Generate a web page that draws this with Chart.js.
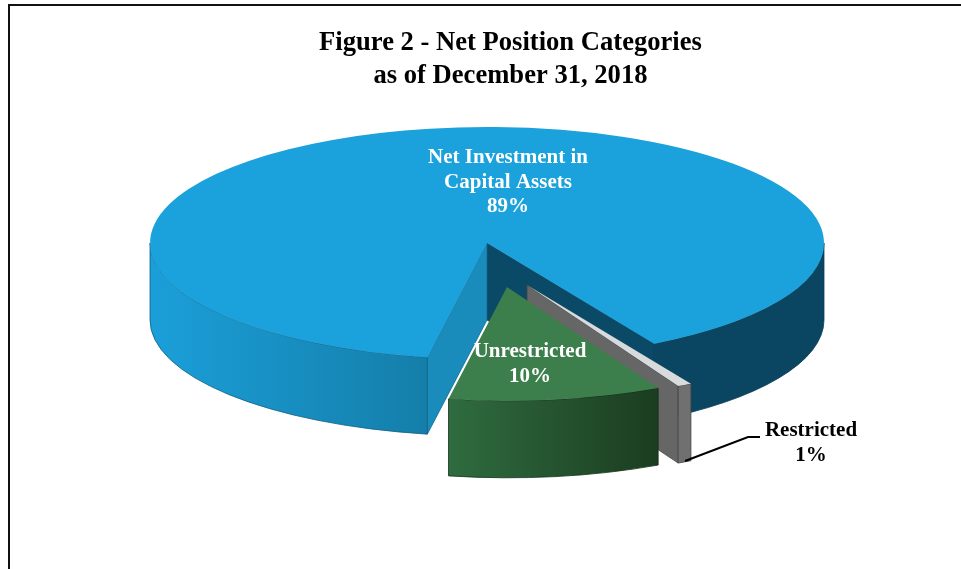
<!DOCTYPE html>
<html>
<head>
<meta charset="utf-8">
<style>
    html, body { margin: 0; padding: 0; background: #fff; overflow: hidden; }
    #box { position: absolute; left: 8px; top: 4px; right: 0; bottom: 0; border-left: 2px solid #111; border-top: 2px solid #111; }
    #chart { position: absolute; left: 0; top: 0; }
</style>
<script src="https://cdn.jsdelivr.net/npm/chart.js@4"></script>
</head>
<body>
<div id="box"></div>
<canvas id="chart" width="961" height="569"></canvas>
<script>
const categories = ['Net Investment in Capital Assets', 'Restricted', 'Unrestricted'];
const shares = [88.9, 0.7, 10.4];
const titleLines = ['Figure 2 - Net Position Categories', 'as of December 31, 2018'];
const mainLabel = ['Net Investment in', 'Capital Assets', '89%'];
const greenLabel = ['Unrestricted', '10%'];
const greyLabel = ['Restricted', '1%'];

const topColors = ['#1ba1db', '#d9dadc', '#3c7f4c'];
const serif = '"Liberation Serif", "Times New Roman", serif';
const depth = 77;
const baseX = 487, baseY = 243, radX = 337, radY = 116;
// how far each slice is pulled out of the pie, in pixels
const pull = [{ x: 0, y: 0 }, { x: 40, y: 42 }, { x: 20, y: 44 }];
const size = [1, 0.98, 0.98];

function wall(ctx, p, a0, a1, fill, edge) {
    ctx.beginPath();
    ctx.ellipse(p.x, p.y, p.rx, p.ry, 0, a0, a1);
    ctx.ellipse(p.x, p.y + depth, p.rx, p.ry, 0, a1, a0, true);
    ctx.closePath();
    ctx.fillStyle = fill;
    ctx.fill();
    ctx.strokeStyle = edge;
    ctx.lineWidth = 0.8;
    ctx.stroke();
}

function face(ctx, p, a, fill, edge) {
    const ex = p.x + Math.cos(a) * p.rx;
    const ey = p.y + Math.sin(a) * p.ry;
    ctx.beginPath();
    ctx.moveTo(p.x, p.y);
    ctx.lineTo(ex, ey);
    ctx.lineTo(ex, ey + depth);
    ctx.lineTo(p.x, p.y + depth);
    ctx.closePath();
    ctx.fillStyle = fill;
    ctx.fill();
    ctx.strokeStyle = edge;
    ctx.lineWidth = 0.8;
    ctx.stroke();
}

function hGrad(ctx, x0, x1, c0, c1) {
    const g = ctx.createLinearGradient(x0, 0, x1, 0);
    g.addColorStop(0, c0);
    g.addColorStop(1, c1);
    return g;
}

const pie3d = {
    id: 'pie3d',
    beforeDatasetDraw(chart) {
        const ctx = chart.ctx;
        const arcs = chart.getDatasetMeta(0).data;
        const r = arcs[0].outerRadius;
        const places = arcs.map(function (el, i) {
            return {
                x: baseX + pull[i].x,
                y: baseY + pull[i].y,
                rx: radX * size[i],
                ry: radY * size[i]
            };
        });
        const TAU = Math.PI * 2;

        // sides first, the library arc goes on top as the lid of each slice
        const main = arcs[0], grey = arcs[1], green = arcs[2];
        face(ctx, places[0], main.endAngle, '#0b4a67', '#0a3d55');
        face(ctx, places[0], main.startAngle, '#1a8cbc', '#0f6a90');
        wall(ctx, places[0], main.startAngle, Math.PI, hGrad(ctx, 150, 428, '#1b9fd9', '#147ea9'), '#0f5f82');
        wall(ctx, places[0], 0, main.endAngle - TAU, '#0a4662', '#0a3d55');
        drawLid(ctx, main, places[0], r);

        face(ctx, places[1], grey.endAngle, '#666666', '#444444');
        wall(ctx, places[1], grey.startAngle, grey.endAngle, '#707070', '#444444');
        drawLid(ctx, grey, places[1], r);

        wall(ctx, places[2], green.startAngle, green.endAngle, hGrad(ctx, 448, 659, '#2f6c3f', '#1b3c20'), '#14301a');
        drawLid(ctx, green, places[2], r);
        return false;
    },
    afterDraw(chart) {
        const ctx = chart.ctx;
        ctx.save();
        ctx.textAlign = 'center';
        ctx.textBaseline = 'middle';
        ctx.font = 'bold 21px ' + serif;
        ctx.fillStyle = '#ffffff';
        mainLabel.forEach(function (t, i) { ctx.fillText(t, 508, 158 + i * 24.5); });
        greenLabel.forEach(function (t, i) { ctx.fillText(t, 530, 352 + i * 25); });
        ctx.fillStyle = '#000000';
        greyLabel.forEach(function (t, i) { ctx.fillText(t, 811, 431 + i * 25); });
        ctx.beginPath();
        ctx.moveTo(685, 461);
        ctx.lineTo(748, 437);
        ctx.lineTo(760, 437);
        ctx.strokeStyle = '#000000';
        ctx.lineWidth = 2;
        ctx.stroke();
        ctx.restore();
    }
};

function drawLid(ctx, el, p, r) {
    ctx.save();
    ctx.translate(p.x, p.y);
    ctx.scale(p.rx / r, p.ry / r);
    ctx.translate(-el.x, -el.y);
    el.draw(ctx);
    ctx.restore();
}

new Chart(document.getElementById('chart').getContext('2d'), {
    type: 'pie',
    data: {
        labels: categories,
        datasets: [{
            data: shares,
            backgroundColor: topColors,
            borderWidth: 0
        }]
    },
    plugins: [pie3d],
    options: {
        responsive: false,
        animation: false,
        rotation: 190.2,
        layout: { padding: { left: 60 } },
        plugins: {
            legend: { display: false },
            tooltip: { enabled: false },
            title: {
                display: true,
                text: titleLines,
                color: '#000000',
                font: { family: serif, size: 26.6, weight: 'bold', lineHeight: 1.24 },
                padding: { top: 27, bottom: 10 }
            }
        }
    }
});
</script>
</body>
</html>
